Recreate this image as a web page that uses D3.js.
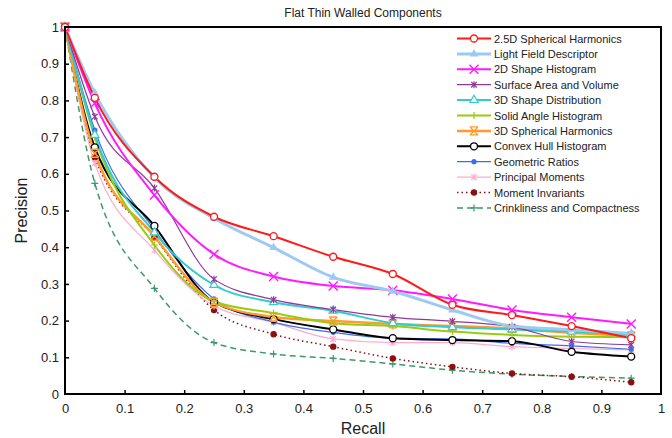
<!DOCTYPE html>
<html>
<head>
<meta charset="utf-8">
<script src="https://cdn.jsdelivr.net/npm/d3@7"></script>
<style>
  body { margin: 0; background: #fff; }
  svg text { font-family: "Liberation Sans", Arial, sans-serif; }
</style>
</head>
<body>
<div id="chart"></div>
<script>
// recall levels shared by every curve
var recall = [0, 0.05, 0.15, 0.25, 0.35, 0.45, 0.55, 0.65, 0.75, 0.85, 0.95];

var sphericalHarmonics25D = [1, 0.807, 0.592, 0.483, 0.430, 0.374, 0.327, 0.243, 0.215, 0.185, 0.152];
var lightField          = [1, 0.82, 0.59, 0.479, 0.399, 0.318, 0.280, 0.229, 0.185, 0.175, 0.165];
var shapeHist2D         = [1, 0.792, 0.542, 0.381, 0.320, 0.294, 0.283, 0.259, 0.229, 0.209, 0.191];
var surfaceArea         = [1, 0.756, 0.561, 0.313, 0.257, 0.230, 0.209, 0.198, 0.183, 0.143, 0.134];
var shapeDist3D         = [1, 0.706, 0.440, 0.297, 0.250, 0.227, 0.193, 0.182, 0.176, 0.170, 0.163];
var solidAngle          = [1, 0.700, 0.406, 0.252, 0.221, 0.193, 0.185, 0.170, 0.161, 0.156, 0.155];
var sphericalHarmonics3D = [1, 0.656, 0.430, 0.250, 0.210, 0.199, 0.191, 0.185, 0.178, 0.167, 0.158];
var convexHull          = [1, 0.672, 0.458, 0.250, 0.204, 0.176, 0.152, 0.147, 0.144, 0.115, 0.102];
var geometricRatios     = [1, 0.719, 0.447, 0.259, 0.196, 0.168, 0.152, 0.150, 0.138, 0.131, 0.122];
var principalMoments    = [1, 0.629, 0.392, 0.240, 0.195, 0.150, 0.140, 0.140, 0.129, 0.124, 0.120];
var momentInvariants    = [1, 0.645, 0.427, 0.229, 0.163, 0.129, 0.097, 0.074, 0.056, 0.047, 0.032];
var crinkliness         = [1, 0.574, 0.288, 0.140, 0.109, 0.097, 0.082, 0.065, 0.054, 0.048, 0.043];

var xTicks = [0, 0.1, 0.2, 0.3, 0.4, 0.5, 0.6, 0.7, 0.8, 0.9, 1];
var yTicks = [0, 0.1, 0.2, 0.3, 0.4, 0.5, 0.6, 0.7, 0.8, 0.9, 1];

// series list: name, values, colour, line width, dash, marker
var series = [
  {name: "2.5D Spherical Harmonics", y: sphericalHarmonics25D, color: "#ff1a1a", w: 2, dash: null, mark: "ocircle"},
  {name: "Light Field Descriptor", y: lightField, color: "#9ccaf2", w: 3, dash: null, mark: "ftri"},
  {name: "2D Shape Histogram", y: shapeHist2D, color: "#ff1aff", w: 2, dash: null, mark: "x"},
  {name: "Surface Area and Volume", y: surfaceArea, color: "#8e3a9a", w: 1.2, dash: null, mark: "star"},
  {name: "3D Shape Distribution", y: shapeDist3D, color: "#33cccc", w: 2, dash: null, mark: "otri"},
  {name: "Solid Angle Histogram", y: solidAngle, color: "#99cc11", w: 2, dash: null, mark: "plus"},
  {name: "3D Spherical Harmonics", y: sphericalHarmonics3D, color: "#ff9a2e", w: 2.5, dash: null, mark: "bigstar"},
  {name: "Convex Hull Histogram", y: convexHull, color: "#000000", w: 2, dash: null, mark: "ocircle"},
  {name: "Geometric Ratios", y: geometricRatios, color: "#3b6cf0", w: 1.2, dash: null, mark: "fdot"},
  {name: "Principal Moments", y: principalMoments, color: "#ffaacc", w: 1.2, dash: null, mark: "star"},
  {name: "Moment Invariants", y: momentInvariants, color: "#8b1010", w: 1.5, dash: "1.5,3", mark: "fcircle"},
  {name: "Crinkliness and Compactness", y: crinkliness, color: "#3a9a6a", w: 1.5, dash: "6,4", mark: "plus"}
];

var margin = {top: 27, right: 11, bottom: 44, left: 65},
    width = 672 - margin.left - margin.right,
    height = 438 - margin.top - margin.bottom;

var svg = d3.select("#chart").append("svg")
    .attr("width", 672)
    .attr("height", 438);

var g = svg.append("g")
    .attr("transform", "translate(" + margin.left + "," + margin.top + ")");

var xScale = d3.scaleLinear().domain([0, 1]).range([0, width]);
var yScale = d3.scaleLinear().domain([0, 1]).range([height, 0]);

// axes with inward ticks
var fmt = function(d) { return d === 0 || d === 1 ? d : d3.format(".1f")(d); };
var xAxis = g.append("g")
    .attr("transform", "translate(0," + height + ")")
    .call(d3.axisBottom(xScale).tickValues(xTicks).tickSizeInner(-4).tickSizeOuter(0).tickPadding(10).tickFormat(fmt));
var yAxis = g.append("g")
    .call(d3.axisLeft(yScale).tickValues(yTicks).tickSizeInner(-4).tickSizeOuter(0).tickPadding(6).tickFormat(fmt));

[xAxis, yAxis].forEach(function(a) {
  a.select(".domain").remove();
  a.selectAll("line").attr("stroke", "#000").attr("stroke-width", 1.5);
  a.selectAll("text").attr("font-size", 13).attr("fill", "#222");
  a.selectAll("line").filter(function(d) { return d === 0 || d === 1; }).remove();
});

// lines
var line = d3.line()
    .x(function(d) { return xScale(d[0]); })
    .y(function(d) { return yScale(d[1]); })
    .curve(d3.curveMonotoneX);

function pts(s) { return recall.map(function(r, i) { return [r, s.y[i]]; }); }

var plot = g.append("g");

series.slice().reverse().forEach(function(s) {
  plot.append("path")
      .datum(pts(s))
      .attr("fill", "none")
      .attr("stroke", s.color)
      .attr("stroke-width", s.w)
      .attr("stroke-dasharray", s.dash)
      .attr("d", line);
});

function drawMarker(sel, type, color, x, y) {
  var m = sel.append("g").attr("transform", "translate(" + x + "," + y + ")");
  if (type === "ocircle") {
    m.append("circle").attr("r", 3.5).attr("fill", "#fff").attr("stroke", color).attr("stroke-width", 1.3);
  } else if (type === "fcircle") {
    m.append("circle").attr("r", 3.2).attr("fill", color);
  } else if (type === "fdot") {
    m.append("circle").attr("r", 2.6).attr("fill", color);
  } else if (type === "ftri") {
    m.append("path").attr("d", d3.symbol(d3.symbolTriangle, 32)()).attr("fill", color);
  } else if (type === "otri") {
    m.append("path").attr("d", d3.symbol(d3.symbolTriangle, 30)()).attr("fill", "#fff")
      .attr("stroke", color).attr("stroke-width", 1.2);
  } else if (type === "x") {
    m.append("path").attr("d", "M-4.5,-4.5L4.5,4.5M-4.5,4.5L4.5,-4.5").attr("stroke", color).attr("stroke-width", 1.4);
  } else if (type === "plus") {
    m.append("path").attr("d", "M-3.5,0L3.5,0M0,-3.5L0,3.5").attr("stroke", color).attr("stroke-width", 1.2);
  } else if (type === "star") {
    m.append("path").attr("d", "M-2.8,-2.8L2.8,2.8M-2.8,2.8L2.8,-2.8M0,-3.5L0,3.5").attr("stroke", color).attr("stroke-width", 1.2);
  } else if (type === "bigstar") {
    m.append("path").attr("d", "M-4,-4L4,4M-4,4L4,-4M-4,-4L4,-4M-4,4L4,4")
      .attr("stroke", color).attr("stroke-width", 1.4);
  }
}

series.slice().reverse().forEach(function(s) {
  pts(s).forEach(function(p) {
    drawMarker(plot, s.mark, s.color, xScale(p[0]), yScale(p[1]));
  });
});

// frame
g.append("rect")
    .attr("width", width).attr("height", height)
    .attr("fill", "none").attr("stroke", "#000").attr("stroke-width", 2);

// legend
var legend = g.append("g").attr("transform", "translate(" + (width - 222) + ",0)");
legend.append("rect").attr("x", 0).attr("y", 1).attr("width", 221).attr("height", 190).attr("fill", "#fff");
series.forEach(function(s, i) {
  var ly = 11.5 + i * 15.4;
  var row = legend.append("g");
  row.append("line").attr("x1", 18).attr("x2", 52).attr("y1", ly).attr("y2", ly)
      .attr("stroke", s.color).attr("stroke-width", s.w).attr("stroke-dasharray", s.dash);
  drawMarker(row, s.mark, s.color, 35, ly);
  row.append("text").attr("x", 55).attr("y", ly + 4).attr("font-size", 11).attr("fill", "#222").text(s.name);
});

// titles
svg.append("text").attr("x", margin.left + width / 2).attr("y", 17)
    .attr("text-anchor", "middle").attr("font-size", 12).attr("fill", "#222")
    .text("Flat Thin Walled Components");
svg.append("text").attr("x", margin.left + width / 2).attr("y", 434)
    .attr("text-anchor", "middle").attr("font-size", 16).attr("fill", "#222").text("Recall");
svg.append("text").attr("transform", "translate(27," + (margin.top + height / 2) + ") rotate(-90)")
    .attr("text-anchor", "middle").attr("font-size", 16).attr("fill", "#222").text("Precision");
</script>
</body>
</html>
